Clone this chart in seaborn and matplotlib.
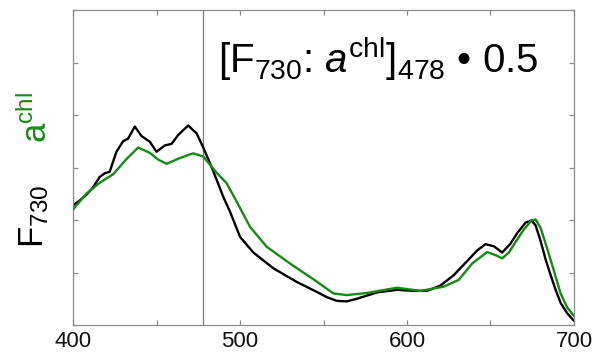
import numpy as np
import pandas as pd
import matplotlib
matplotlib.use("Agg")
import matplotlib.pyplot as plt
import seaborn as sns

# ---- data ----
wl_f730 = [400, 404, 408, 412, 416, 419, 422, 426, 430, 433, 437, 441, 446, 450,
           455, 459, 463, 469, 474, 478, 484, 490, 494, 500, 508, 520, 534, 546,
           552, 558, 564, 570, 582, 594, 604, 612, 620, 628, 637, 642, 647, 652,
           657, 662, 666, 671, 674.5, 677, 680, 683, 686, 689, 692, 696, 700]
f730 = [2.28, 2.37, 2.48, 2.62, 2.82, 2.89, 2.92, 3.30, 3.50, 3.55, 3.78, 3.60,
        3.49, 3.30, 3.42, 3.45, 3.62, 3.80, 3.65, 3.38, 2.93, 2.44, 2.16, 1.68,
        1.38, 1.08, 0.82, 0.63, 0.53, 0.46, 0.45, 0.50, 0.62, 0.67, 0.65, 0.65,
        0.75, 0.95, 1.25, 1.42, 1.54, 1.50, 1.38, 1.55, 1.75, 1.95, 1.99, 1.90,
        1.60, 1.25, 0.95, 0.67, 0.42, 0.22, 0.08]

wl_achl = [400, 408, 416, 424, 432, 439, 446, 451, 456, 464, 472, 478, 486, 492,
           498, 506, 516, 530, 544, 556, 564, 576, 594, 608, 622, 631, 639, 648,
           653, 657, 661, 665, 670, 674.5, 677, 680, 684, 688, 692, 696, 700]
achl = [2.20, 2.50, 2.71, 2.87, 3.16, 3.38, 3.28, 3.15, 3.07, 3.18, 3.27, 3.21,
        2.90, 2.70, 2.35, 1.87, 1.49, 1.17, 0.87, 0.60, 0.57, 0.61, 0.71, 0.65,
        0.73, 0.86, 1.17, 1.39, 1.33, 1.27, 1.38, 1.58, 1.82, 1.99, 2.01, 1.85,
        1.45, 1.03, 0.60, 0.33, 0.17]

xticks = [400, 450, 500, 550, 600, 650, 700]
xticklabels = ["400", "", "500", "", "600", "", "700"]
yticks = [1, 2, 3, 4, 5]
ref_wl = 478

sns.set_theme(style="ticks")
plt.rcParams["font.family"] = ["Liberation Sans", "DejaVu Sans"]
plt.rcParams["mathtext.fontset"] = "custom"
plt.rcParams["mathtext.rm"] = "Liberation Sans"
plt.rcParams["mathtext.it"] = "Liberation Sans:italic"
plt.rcParams["mathtext.bf"] = "Liberation Sans:bold"

fig = plt.figure(figsize=(5.94, 3.54), dpi=100)
ax = fig.add_axes([73 / 594, 29 / 354, (574 - 73) / 594, (325 - 10) / 354])

df_f = pd.DataFrame({"wl": wl_f730, "val": f730})
df_a = pd.DataFrame({"wl": wl_achl, "val": achl})

ax.axvline(ref_wl, color="#7a7a7a", lw=0.9, zorder=1)
sns.lineplot(data=df_a, x="wl", y="val", ax=ax, color="#168a16", lw=1.7, zorder=3)
sns.lineplot(data=df_f, x="wl", y="val", ax=ax, color="black", lw=1.7, zorder=2)

ax.set_xlim(400, 700)
ax.set_ylim(0, 6)
ax.set_xticks(xticks)
ax.set_xticklabels(xticklabels)
ax.set_yticks(yticks)
ax.set_yticklabels([])
ax.set_xlabel("")
ax.set_ylabel("")
for s in ax.spines.values():
    s.set_visible(True)
    s.set_color("#8a8a8a")
    s.set_linewidth(0.9)
ax.tick_params(direction="in", length=3.5, width=0.9, color="#8a8a8a",
               top=True, right=True, labelsize=16, pad=4, labelcolor="#111111")

# annotation
fig.text(218 / 594, (354 - 73) / 354,
         r"[F$_{730}$: $a^{\mathrm{chl}}$]$_{478}$ • 0.5",
         fontsize=29, ha="left", va="baseline", color="black")

# y labels
fig.text(43 / 594, (354 - 248) / 354, r"F$_{730}$", rotation=90,
         rotation_mode="anchor", ha="left", va="baseline", fontsize=25,
         color="black")
fig.text(47 / 594, (354 - 143) / 354, r"a$^{\mathrm{chl}}$", rotation=90,
         rotation_mode="anchor", ha="left", va="baseline", fontsize=25,
         color="#168a16")

fig.savefig("out.png", dpi=100)
